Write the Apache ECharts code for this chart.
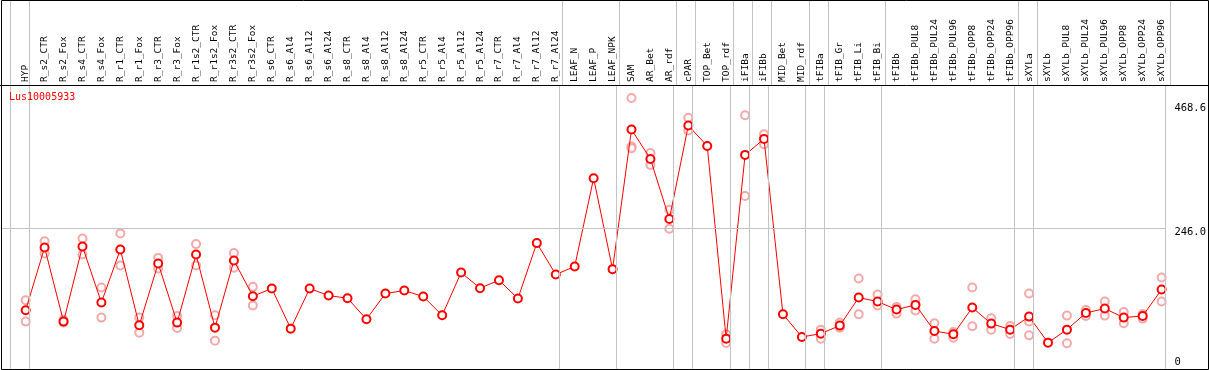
<!DOCTYPE html>
<html>
<head>
<meta charset="utf-8">
<script src="https://cdn.jsdelivr.net/npm/echarts@6/dist/echarts.min.js"></script>
<style>
html,body{margin:0;padding:0;background:#fff;}
#c{width:1209px;height:370px;}
</style>
</head>
<body>
<div id="c"></div>
<script>
const geneName = 'Lus10005933';
const categories = ['HYP','R_s2_CTR','R_s2_Fox','R_s4_CTR','R_s4_Fox','R_r1_CTR','R_r1_Fox','R_r3_CTR','R_r3_Fox','R_r1s2_CTR','R_r1s2_Fox','R_r3s2_CTR','R_r3s2_Fox','R_s6_CTR','R_s6_Al4','R_s6_Al12','R_s6_Al24','R_s8_CTR','R_s8_Al4','R_s8_Al12','R_s8_Al24','R_r5_CTR','R_r5_Al4','R_r5_Al12','R_r5_Al24','R_r7_CTR','R_r7_Al4','R_r7_Al12','R_r7_Al24','LEAF_N','LEAF_P','LEAF_NPK','SAM','AR_Bet','AR_rdf','cPAR','TOP_Bet','TOP_rdf','iFIBa','iFIBb','MID_Bet','MID_rdf','tFIBa','tFIB_Gr','tFIB_Li','tFIB_Bi','tFIBb','tFIBb_PUL8','tFIBb_PUL24','tFIBb_PUL96','tFIBb_OPP8','tFIBb_OPP24','tFIBb_OPP96','sXYLa','sXYLb','sXYLb_PUL8','sXYLb_PUL24','sXYLb_PUL96','sXYLb_OPP8','sXYLb_OPP24','sXYLb_OPP96'];
const means = [99,211.8,78.6,213.6,112.8,208.2,72,183,76.8,199,67.8,188.4,124.2,138,66,138,125.4,120.6,82.8,129,134.4,123.6,90,166.8,138.6,153,120,219.6,163.2,177.6,336,172.8,423.5,370.7,262.8,430.7,394,48,378,406.7,91.8,51,57,71.4,121.8,114.6,100.2,108.6,61.8,55.8,103.8,75,64.2,87.6,40.8,64.2,94.2,102,85.8,88.8,136.2];
const rep1 = [117,223,82,228,139.8,237,85.8,193,88.8,217.8,90,201.6,141,null,null,null,null,null,null,null,null,null,null,null,null,null,null,null,null,null,null,null,480,381.5,279.5,444.5,null,55.8,449.3,415,null,null,64.2,76.8,156,127.2,105,118.8,75.6,60,139.8,84.6,70.8,129,null,89.4,99.6,114.6,96,92.4,157.8];
const rep2 = [78.6,201,77,199,85.8,179.4,58.8,174,67.2,179.4,44.4,175.2,107.4,null,null,null,null,null,null,null,null,null,null,null,null,null,null,null,null,null,null,null,393,360,245.4,421.7,null,40.2,304.1,397,null,null,48,67.8,91.8,107.4,93,98.4,48,49.8,70.2,64.2,56.4,54,null,39.6,88.8,89.4,75.6,84,114.6];
const rep3 = [null,null,null,null,null,null,null,null,null,null,null,null,null,null,null,null,null,null,null,null,null,null,null,null,null,null,null,null,null,null,null,null,390,null,null,null,null,null,null,null,null,null,null,null,null,null,null,null,null,null,null,null,null,79,null,null,null,null,null,null,null];
// index of last category in each group (separators drawn just right of it)
const groupEnds = [-1,0,28,31,34,35,37,38,39,41,42,45,52,53,60];
const yTickValues = [0,246,468.6];
const yTickLabels = ['0','246.0','468.6'];
const gridValue = 246;

const FONT = 'DejaVu Sans Mono';
const xMin = -1.303, xMax = 60.2;
const sepOffset = 0.2;

const meanData = means.map((v,i)=>[i,v]);
const repData = [];
[rep1,rep2,rep3].forEach(arr=>arr.forEach((v,i)=>{ if(v!==null) repData.push([i,v]); }));
const sepLines = groupEnds.map(g=>({xAxis:g+sepOffset}));
const sepStyle = {color:'#c4c4c4',width:1,type:'solid'};

const chart = echarts.init(document.getElementById('c'));
chart.setOption({
  animation:false,
  backgroundColor:'#fff',
  title:{text:geneName,left:9,top:92,padding:0,textStyle:{color:'#ff0000',fontFamily:FONT,fontSize:10,fontWeight:'normal'}},
  grid:[
    {left:1,top:85,width:1169,height:284,containLabel:false},
    {left:1,top:0,width:1169,height:85,containLabel:false}
  ],
  xAxis:[
    {gridIndex:0,type:'value',min:xMin,max:xMax,position:'top',
     axisLine:{show:false},axisTick:{show:false},splitLine:{show:false},
     axisLabel:{customValues:categories.map((c,i)=>i),rotate:90,margin:3,
       formatter:v=>categories[Math.round(v)]||'',
       color:'#000',fontFamily:FONT,fontSize:9.5}},
    {gridIndex:1,type:'value',min:xMin,max:xMax,show:false}
  ],
  yAxis:[
    {gridIndex:0,type:'value',min:-6.5,max:503.5,position:'right',
     axisLine:{show:false},axisTick:{show:false},splitLine:{show:false},
     axisLabel:{customValues:yTickValues,margin:9,align:'left',verticalAlign:'middle',
       formatter:v=>{const k=yTickValues.indexOf(v);const t=k>=0?yTickLabels[k]:String(v);return v===0?'{b|'+t+'}':'{a|'+t+'}';},
       rich:{a:{padding:[7,0,0,0],fontFamily:FONT,fontSize:10.5,color:'#000'},
             b:{padding:[0,0,7,0],fontFamily:FONT,fontSize:10.5,color:'#000'}}}},
    {gridIndex:1,type:'value',min:0,max:1,show:false}
  ],
  series:[
    {type:'line',xAxisIndex:1,yAxisIndex:1,data:[],silent:true,
     markLine:{silent:true,symbol:'none',label:{show:false},lineStyle:sepStyle,data:sepLines}},
    {type:'line',xAxisIndex:0,yAxisIndex:0,data:[],silent:true,z:1,
     markLine:{silent:true,symbol:'none',label:{show:false},lineStyle:sepStyle,
       data:sepLines.concat([{yAxis:gridValue}])}},
    {type:'scatter',xAxisIndex:0,yAxisIndex:0,data:repData,z:2,
     symbol:'emptyCircle',symbolSize:8,
     itemStyle:{color:'#f09494',borderColor:'#f09494',borderWidth:1.2}},
    {type:'line',xAxisIndex:0,yAxisIndex:0,data:meanData,z:3,
     symbol:'emptyCircle',symbolSize:8,showAllSymbol:true,
     lineStyle:{color:'#ff0000',width:1},
     itemStyle:{color:'#ff0000',borderColor:'#ff0000',borderWidth:1.6}}
  ],
  graphic:[
    {type:'rect',silent:true,z:100,shape:{x:1.5,y:0.5,width:1207,height:369},style:{fill:null,stroke:'#000',lineWidth:1}},
    {type:'line',silent:true,z:100,shape:{x1:0,y1:85.5,x2:1209,y2:85.5},style:{stroke:'#000',lineWidth:1}}
  ]
});
</script>
</body>
</html>
